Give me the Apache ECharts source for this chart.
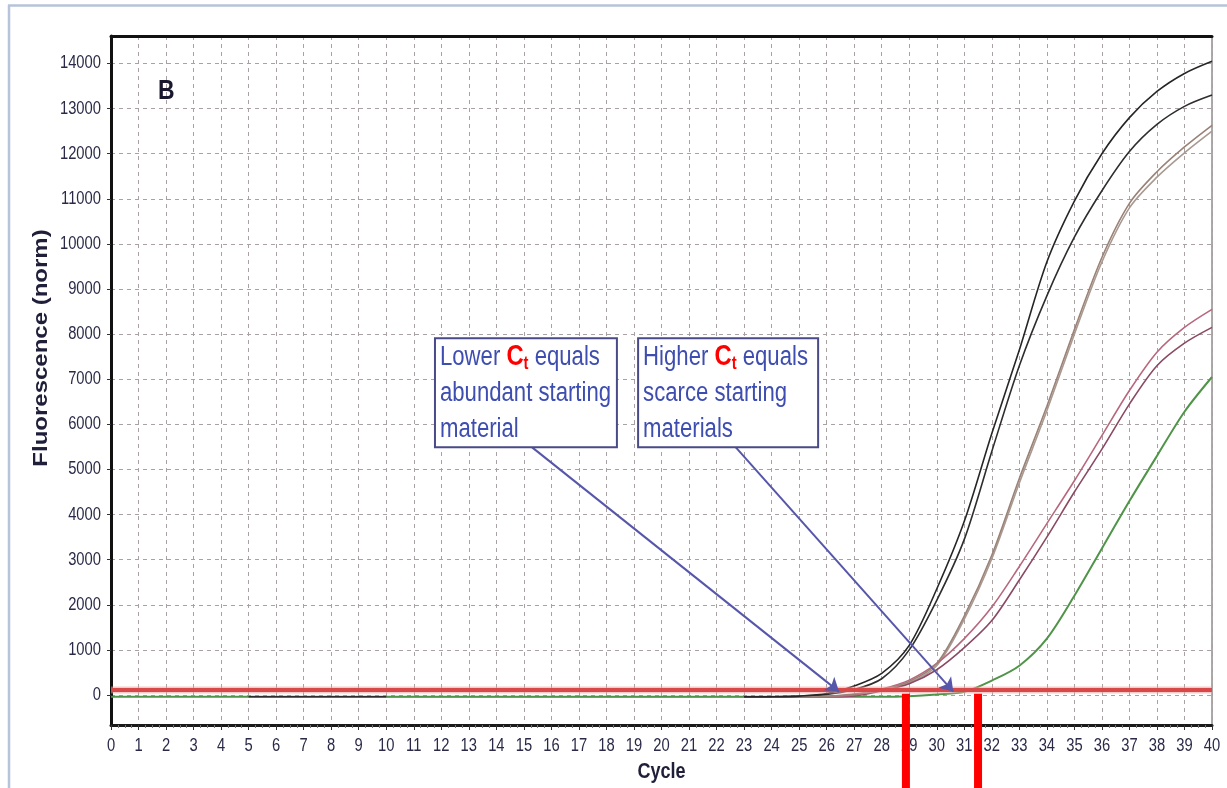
<!DOCTYPE html>
<html>
<head>
<meta charset="utf-8">
<script src="https://cdn.jsdelivr.net/npm/echarts@6/dist/echarts.min.js"></script>
<style>
  html, body { margin: 0; padding: 0; background: #ffffff; }
  #chart { width: 1227px; height: 788px; }
</style>
</head>
<body>
<div id="chart"></div>
<script>
// Amplification plot: normalised fluorescence per PCR cycle
const cycles = [0, 1, 2, 3, 4, 5, 6, 7, 8, 9, 10, 11, 12, 13, 14, 15, 16, 17, 18, 19, 20,
                21, 22, 23, 24, 25, 26, 27, 28, 29, 30, 31, 32, 33, 34, 35, 36, 37, 38, 39, 40];

const yTicks = [0, 1000, 2000, 3000, 4000, 5000, 6000, 7000, 8000, 9000, 10000, 11000, 12000, 13000, 14000];

// one value per cycle; null = not drawn
const sampleA = [null, null, null, null, null, null, null, null, null, null,
                 null, null, null, null, null, null, null, null, null, null,
                 null, null, null, -40, -38, -25, 30, 200, 480, 1100,
                 2350, 3850, 5800, 7650, 9600, 10950, 12000, 12800, 13380, 13780, 14050];

const sampleB = [null, null, null, null, null, -40, -40, -40, -40, -40,
                 -40, null, null, null, null, null, null, null, null, null,
                 null, null, null, -40, -38, -30, 10, 120, 360, 1000,
                 2100, 3450, 5400, 7300, 8850, 10150, 11180, 12050, 12650, 13050, 13300];

const sampleC = [null, null, null, null, null, null, null, null, null, null,
                 null, null, null, null, null, null, null, null, null, null,
                 null, null, null, null, -40, -36, -28, 20, 120, 300,
                 700, 1750, 3100, 4800, 6400, 8100, 9700, 10900, 11600, 12150, 12630];

const sampleD = [null, null, null, null, null, null, null, null, null, null,
                 -40, -40, -40, -40, -40, -40, -40, -40, -40, -40,
                 -40, -40, -40, -40, -40, -38, -30, 10, 100, 270,
                 650, 1680, 3020, 4700, 6300, 8000, 9600, 10800, 11480, 12020, 12500];

const sampleE = [null, null, null, null, null, null, null, null, null, null,
                 null, null, null, null, null, null, null, null, null, null,
                 null, null, null, null, null, -40, -36, 0, 130, 330,
                 700, 1250, 1950, 2850, 3800, 4750, 5750, 6750, 7600, 8150, 8550];

const sampleF = [null, null, null, null, null, null, null, null, null, null,
                 null, null, null, null, null, null, null, null, null, null,
                 null, null, null, null, null, -40, -38, -20, 90, 250,
                 560, 1050, 1650, 2550, 3500, 4500, 5450, 6450, 7300, 7800, 8150];

const sampleG = [-40, -40, -40, -40, -40, -40, -40, -40, -40, -40,
                 -40, -40, -40, -40, -40, -40, -40, -40, -40, -40,
                 -40, -40, -40, -40, -40, -40, -40, -40, -40, -28,
                 10, 70, 320, 650, 1250, 2200, 3250, 4300, 5300, 6280, 7050];

const threshold = 110;
const ctMarks = [28.88, 31.5];

// callouts: box corners and arrow ends in (cycle, fluorescence)
const notes = [
  { box: [11.77, 7910, 18.38, 5490], from: [15.3, 5490], to: [26.45, 75],
    text: 'Lower {c|C}{t|t} equals\nabundant starting\nmaterial' },
  { box: [19.15, 7910, 25.69, 5490], from: [22.7, 5490], to: [30.6, 75],
    text: 'Higher {c|C}{t|t} equals\nscarce starting\nmaterials' }
];

const Y_MIN = -665, Y_MAX = 14610;
const SANS = "'Liberation Sans', Arial, sans-serif";
const NARROW = 0.82;                     // horizontal squeeze for the condensed lettering
const TICK_COLOR = '#2a2a48';
const GRID_LINE = { type: [4, 4], color: '#aaa2a2', width: 1 };

const pairs = vals => cycles.map((c, i) => [c, vals[i] === null ? '-' : vals[i]]);

function curve(name, vals, color, width) {
  return {
    name, type: 'line', data: pairs(vals), showSymbol: false, symbol: 'none',
    smooth: 0.3, connectNulls: false,
    lineStyle: { color, width: width || 1.6 }, silent: true, z: 3
  };
}

const chart = echarts.init(document.getElementById('chart'), null, { renderer: 'canvas' });

chart.setOption({
  animation: false,
  backgroundColor: '#ffffff',
  grid: { left: 111, right: 15, top: 36, bottom: 63, show: true,
          borderColor: '#555555', borderWidth: 1, backgroundColor: '#ffffff' },
  xAxis: [{
    type: 'value', min: 0, max: 40, interval: 1, position: 'bottom',
    axisLine: { onZero: false, lineStyle: { color: '#1a1a1a', width: 3 } },
    axisTick: { show: true, length: 5, lineStyle: { color: '#333' } },
    minorTick: { show: true, splitNumber: 4, length: 3, lineStyle: { color: '#777' } },
    axisLabel: { show: false },
    splitLine: { show: true, lineStyle: GRID_LINE }
  }, {
    type: 'value', min: 0, max: 40, position: 'top',
    axisLine: { show: true, onZero: false, lineStyle: { color: '#111', width: 3 } },
    axisTick: { show: false }, axisLabel: { show: false }, splitLine: { show: false }
  }],
  yAxis: {
    type: 'value', min: Y_MIN, max: Y_MAX,
    axisLine: { show: true, onZero: false, lineStyle: { color: '#111', width: 3 } },
    axisTick: { show: true, customValues: yTicks, length: 4, lineStyle: { color: '#333' } },
    axisLabel: { show: false, customValues: yTicks },
    splitLine: { show: true, lineStyle: GRID_LINE }
  },
  series: [
    curve('D', sampleD, '#a89a92'),
    curve('G', sampleG, '#4f9448', 2),
    curve('B', sampleB, '#2e2e2e'),
    curve('F', sampleF, '#8a4a64'),
    curve('E', sampleE, '#b8687e'),
    curve('C', sampleC, '#9a8276'),
    curve('A', sampleA, '#262626'),
    { name: 'threshold-halo', type: 'line', data: [[0, threshold], [40, threshold]], symbol: 'none',
      lineStyle: { color: 'rgba(235,160,160,0.55)', width: 7 }, silent: true, z: 4 },
    { name: 'threshold', type: 'line', data: [[0, threshold], [40, threshold]], symbol: 'none',
      lineStyle: { color: '#d84848', width: 4 }, silent: true, z: 4 },
    { name: 'pointers', type: 'lines', coordinateSystem: 'cartesian2d',
      symbol: ['none', 'arrow'], symbolSize: 13,
      lineStyle: { color: '#5656aa', width: 2, opacity: 1 },
      itemStyle: { color: '#3050c0' },
      data: notes.map(n => ({ coords: [n.from, n.to] })), silent: true, z: 6 }
  ]
});

function overlay() {
  const px = p => chart.convertToPixel({ gridIndex: 0 }, p);
  const els = [];
  // outer frame
  els.push({ type: 'line', shape: { x1: 9, y1: 5, x2: 9, y2: 788 },
             style: { stroke: '#b7c3da', lineWidth: 2.5 }, z: 10 });
  els.push({ type: 'line', shape: { x1: 8, y1: 5.5, x2: 1227, y2: 5.5 },
             style: { stroke: '#b7c3da', lineWidth: 2.5 }, z: 10 });

  // tick labels, placed through the axis scales
  yTicks.forEach(v => {
    const p = px([0, v]);
    els.push({ type: 'text', x: p[0] - 10, y: p[1], scaleX: NARROW, z: 10,
               style: { text: String(v), fontFamily: SANS, fontSize: 18, fill: TICK_COLOR,
                        align: 'right', verticalAlign: 'middle' } });
  });
  cycles.forEach(c => {
    const p = px([c, Y_MIN]);
    els.push({ type: 'text', x: p[0], y: p[1] + 12, scaleX: NARROW, z: 10,
               style: { text: String(c), fontFamily: SANS, fontSize: 18, fill: TICK_COLOR,
                        align: 'center', verticalAlign: 'top' } });
  });

  // axis titles
  const xMid = px([20, Y_MIN]);
  els.push({ type: 'text', x: xMid[0], y: xMid[1] + 36, scaleX: NARROW, z: 10,
             style: { text: 'Cycle', fontFamily: SANS, fontSize: 22, fontWeight: 'bold', fill: '#1f1f3a',
                      align: 'center', verticalAlign: 'top' } });
  els.push({ type: 'text', x: 42, y: 348, rotation: Math.PI / 2, scaleY: NARROW, z: 10,
             style: { text: 'Fluorescence (norm)', fontFamily: SANS, fontSize: 24,
                      fontWeight: 'bold', fill: '#1f1f3a', align: 'center', verticalAlign: 'middle' } });

  // panel letter
  els.push({ type: 'text', x: 158, y: 77, scaleX: NARROW, z: 10,
             style: { text: 'B', fontFamily: SANS, fontSize: 28, fontWeight: 'bold', fill: '#18182e' } });

  // callout boxes
  notes.forEach(n => {
    const a = px([n.box[0], n.box[1]]);
    const b = px([n.box[2], n.box[3]]);
    els.push({ type: 'rect', shape: { x: a[0], y: a[1], width: b[0] - a[0], height: b[1] - a[1] },
               style: { fill: '#ffffff', stroke: '#4a4a88', lineWidth: 2 }, z: 20 });
    els.push({ type: 'text', x: a[0] + 5, y: a[1] + 1, scaleX: NARROW, z: 21,
               style: { text: n.text, fontFamily: SANS, fontSize: 27, fill: '#3d4db0',
                        lineHeight: 36, verticalAlign: 'top',
                        rich: {
                          c: { fontFamily: SANS, fontSize: 29, fontWeight: 'bold', fill: '#ff0000', lineHeight: 36 },
                          t: { fontFamily: SANS, fontSize: 18, fontWeight: 'bold', fill: '#ff0000', lineHeight: 36,
                               padding: [14, 0, 0, 0] }
                        } } });
  });

  // Ct markers below the threshold crossing
  ctMarks.forEach(c => {
    const p = px([c, 30]);
    els.push({ type: 'rect', shape: { x: p[0] - 4, y: p[1], width: 8, height: 788 - p[1] },
               style: { fill: '#ff0000' }, z: 30 });
  });
  chart.setOption({ graphic: els });
}
overlay();
</script>
</body>
</html>
